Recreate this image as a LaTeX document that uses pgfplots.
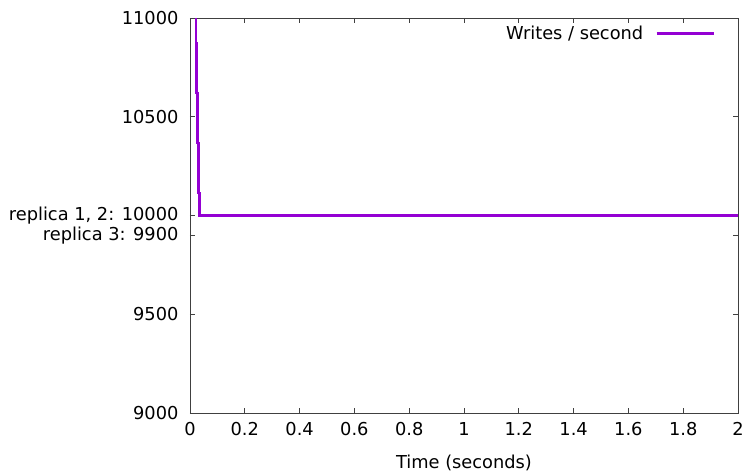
\documentclass[border=0pt]{standalone}
\usepackage{fontspec}
\setmainfont{DejaVu Sans}
\usepackage{pgfplots}
\pgfplotsset{compat=1.18}
\definecolor{gpviolet}{HTML}{9400D3}
\definecolor{gpaxis}{HTML}{404040}
\begin{document}
\begin{tikzpicture}
\path[use as bounding box] (-190pt,-59pt) rectangle (555pt,413pt);
\begin{axis}[
  at={(0pt,0pt)}, anchor=south west,
  scale only axis,
  width=548pt, height=395pt,
  xmin=0, xmax=2, ymin=9000, ymax=11000,
  xtick={0,0.2,...,2},
  xticklabels={0,0.2,0.4,0.6,0.8,1,1.2,1.4,1.6,1.8,2},
  ytick={9000,9500,9900,10000,10500,11000},
  yticklabels={9000,9500,{replica 3: 9900},{replica 1, 2: 10000},10500,11000},
  scaled y ticks=false,
  /pgf/number format/assume math mode=true,
  tick align=inside,
  major tick length=5pt,
  tick style={gpaxis, line width=0.8pt},
  axis line style={gpaxis, line width=0.8pt},
  ticklabel style={font=\fontsize{17.8}{21}\selectfont, black},
  xticklabel style={yshift=-6pt},
  yticklabel style={xshift=-8pt},
  xlabel={Time (seconds)},
  xlabel style={font=\fontsize{17.8}{21}\selectfont, yshift=-12pt},
  legend style={draw=none, fill=none, at={(0.964,0.99)}, anchor=north east,
    font=\fontsize{17.8}{21}\selectfont, column sep=10pt},
  legend cell align=right,
  legend plot pos=right,
  legend image code/.code={\draw[#1] (0pt,0pt) -- (57pt,0pt);},
  clip=false,
]
\addplot[gpviolet, line width=2.8pt, line join=miter] coordinates {
  (0.022,11000) (0.022,10873) (0.0245,10873) (0.0245,10620)
  (0.028,10620) (0.028,10367) (0.032,10367) (0.032,10114)
  (0.035,10114) (0.035,10000) (2,10000)
};
\addlegendentry{Writes / second}
\end{axis}
\end{tikzpicture}
\end{document}
